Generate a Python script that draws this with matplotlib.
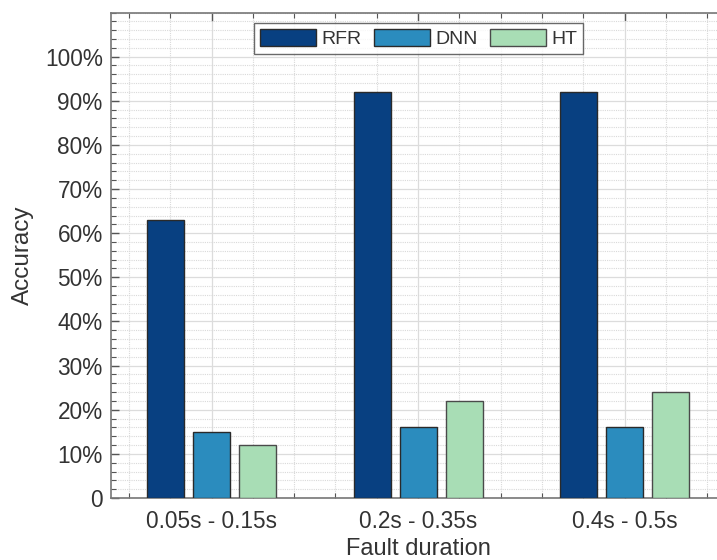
import matplotlib
matplotlib.use("Agg")
import matplotlib.pyplot as plt
import numpy as np
from matplotlib.ticker import MultipleLocator, FixedLocator, FuncFormatter

plt.rcParams['font.family'] = ['Liberation Sans', 'DejaVu Sans']

categories = ["0.05s - 0.15s", "0.2s - 0.35s", "0.4s - 0.5s"]
series_names = ["RFR", "DNN", "HT"]
rfr = [63, 92, 92]
dnn = [15, 16, 16]
ht = [12, 22, 24]
colors = ["#084081", "#2b8cbe", "#a8ddb5"]
yticks = [0, 10, 20, 30, 40, 50, 60, 70, 80, 90, 100]

fig = plt.figure(figsize=(7.17, 5.6), dpi=100)
W, H = 717, 560
left_px, right_px, top_px, bot_px = 111, 727.8, 12.5, 498
ax = fig.add_axes([left_px / W, 1 - bot_px / H, (right_px - left_px) / W, (bot_px - top_px) / H])

x = np.arange(1, len(categories) + 1)
offset = 0.2228
width = 0.179
txtc = "#333333"
for i, (vals, name, c) in enumerate(zip([rfr, dnn, ht], series_names, colors)):
    ax.bar(x + (i - 1) * offset, vals, width=width, color=c, edgecolor="#2a2a2a" if i < 2 else "#4a4a4a",
           linewidth=1.0, label=name, zorder=3)

ax.set_xlim(0.513, 3.5)
ax.set_ylim(0, 110)
ax.xaxis.set_major_locator(FixedLocator(list(x)))
ax.set_xticklabels(categories)
ax.xaxis.set_minor_locator(MultipleLocator(0.2))
ax.yaxis.set_major_locator(FixedLocator(yticks))
ax.yaxis.set_minor_locator(MultipleLocator(2))
ax.yaxis.set_major_formatter(FuncFormatter(lambda v, p: "0" if v == 0 else f"{int(v)}%"))

ax.tick_params(which='both', direction='in', top=True, right=True, colors="#555555",
               labelcolor=txtc, labelsize=16.3)
ax.tick_params(which='major', length=6, width=1)
ax.tick_params(which='minor', length=3.5, width=0.8)
ax.tick_params(axis='y', pad=6)
ax.tick_params(axis='x', pad=9)

ax.grid(which='major', color="#dcdcdc", linewidth=0.9, linestyle='-', zorder=0)
ax.grid(which='minor', color="#d9d9d9", linewidth=0.8, linestyle=(0, (1, 1)), zorder=0)
ax.set_axisbelow(True)
for s in ax.spines.values():
    s.set_color("#777777")
    s.set_linewidth(1.2)

ax.set_ylabel("Accuracy", fontsize=17.5, color=txtc, labelpad=8)
ax.set_xlabel("Fault duration", fontsize=17, color=txtc, labelpad=0)
ax.xaxis.set_label_coords((418 - left_px) / (right_px - left_px), -0.083)

leg = ax.legend(ncol=3, loc='upper left',
                bbox_to_anchor=((254 - left_px) / (right_px - left_px), (bot_px - 23) / (bot_px - top_px)),
                fontsize=14, handlelength=2.9, handleheight=0.95, handletextpad=0.25,
                columnspacing=0.65, borderpad=0.3, borderaxespad=0, fancybox=False,
                frameon=True, labelcolor=txtc)
leg.get_frame().set_edgecolor("#444444")
leg.get_frame().set_linewidth(1.0)

fig.savefig("out.png", dpi=100)
